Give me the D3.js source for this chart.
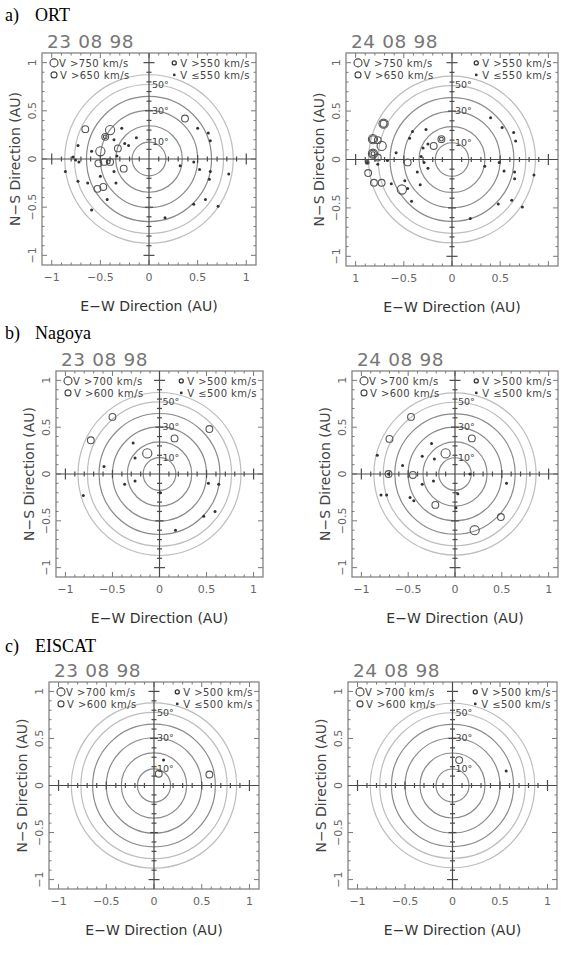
<!DOCTYPE html>
<html>
<head>
<meta charset="utf-8">
<script src="https://cdn.jsdelivr.net/npm/d3@7/dist/d3.min.js"></script>
<style>
  body { margin: 0; background: #fff; }
  svg { display: block; }
</style>
</head>
<body>
<script>
// elongation circles (deg) and the ones that get a label
var elongations = [10, 20, 30, 40, 50, 60];
var elongLabels = [10, 30, 50];
var xTickVals = [-1, -0.5, 0, 0.5, 1];
var yTickVals = [-1, -0.5, 0, 0.5, 1];
var tickText = ["\u22121", "\u22120.5", "0", "0.5", "1"];
var tickTextOrt24 = ["1", "\u22120.5", "0", "0.5", ""];

var ortLegend = ["V >750 km/s", "V >650 km/s", "V >550 km/s", "V \u2264550 km/s"];
var othLegend = ["V >700 km/s", "V >600 km/s", "V >500 km/s", "V \u2264500 km/s"];

// ORT 23 08 98
var ort23Big = [[-0.40, 0.30], [-0.50, 0.08]];
var ort23Mid = [[-0.655, 0.31], [-0.45, 0.23], [-0.32, 0.11], [-0.52, -0.045], [-0.46, -0.03],
  [-0.40, -0.03], [-0.26, -0.10], [-0.53, -0.31], [-0.47, -0.29], [0.37, 0.42]];
var ort23Small = [[-0.45, 0.23], [-0.42, -0.03]];
var ort23Dot = [[-0.73, 0.14], [-0.78, 0.02], [-0.755, -0.01], [-0.72, -0.03], [-0.86, -0.13],
  [-0.73, -0.23], [-0.63, -0.25], [-0.50, -0.18], [-0.59, 0.08], [-0.36, 0.20], [-0.28, 0.32],
  [-0.25, 0.16], [-0.21, 0.14], [-0.13, 0.22], [-0.33, 0.03], [-0.36, -0.13], [-0.34, -0.25],
  [-0.43, -0.42], [-0.59, -0.53], [0.32, -0.07], [0.46, -0.03], [0.50, 0.32], [0.61, 0.27],
  [0.63, 0.19], [0.63, -0.13], [0.62, -0.21], [0.52, -0.11], [0.82, -0.155], [0.71, -0.49],
  [0.58, -0.42], [0.46, -0.47], [0.165, -0.61]];

// ORT 24 08 98
var ort24Big = [[-0.71, 0.37], [-0.82, 0.21], [-0.73, 0.14], [-0.82, 0.06], [-0.52, -0.31]];
var ort24Mid = [[-0.71, 0.37], [-0.77, 0.20], [-0.82, 0.21], [-0.77, 0.02], [-0.82, 0.06],
  [-0.87, -0.14], [-0.81, -0.24], [-0.73, -0.24], [-0.46, -0.03], [-0.19, 0.14], [-0.11, 0.21]];
var ort24Small = [[-0.88, -0.03], [-0.11, 0.21], [-0.82, 0.06]];
var ort24Dot = [[-0.41, 0.29], [-0.44, 0.22], [-0.27, 0.31], [-0.58, 0.07], [-0.67, -0.01],
  [-0.77, -0.05], [-0.30, 0.12], [-0.25, 0.16], [-0.32, 0.03], [-0.29, -0.03], [-0.25, -0.09],
  [-0.36, -0.13], [-0.33, -0.26], [-0.49, -0.22], [-0.46, -0.30], [-0.42, -0.43], [-0.63, -0.25],
  [0.40, 0.43], [0.52, 0.33], [0.64, 0.28], [0.66, 0.19], [0.34, -0.07], [0.49, -0.03],
  [0.54, -0.12], [0.65, -0.13], [0.65, -0.20], [0.85, -0.16], [0.73, -0.49], [0.62, -0.42],
  [0.48, -0.46], [0.19, -0.61], [-0.88, -0.03]];

// Nagoya 23 08 98
var nag23Big = [[-0.13, 0.22]];
var nag23Mid = [[-0.73, 0.36], [-0.50, 0.61], [0.16, 0.38], [0.53, 0.48]];
var nag23Small = [];
var nag23Dot = [[-0.28, 0.33], [-0.26, 0.17], [-0.59, 0.08], [-0.37, -0.11], [-0.26, -0.075],
  [-0.81, -0.23], [0.01, -0.20], [0.52, -0.10], [0.63, -0.11], [0.47, -0.45], [0.59, -0.40],
  [0.17, -0.60]];

// Nagoya 24 08 98
var nag24Big = [[-0.10, 0.22], [0.21, -0.60]];
var nag24Mid = [[-0.47, 0.61], [-0.70, 0.375], [0.18, 0.38], [-0.71, 0.0], [-0.45, -0.01],
  [-0.21, -0.33], [0.49, -0.46]];
var nag24Small = [];
var nag24Dot = [[-0.83, 0.20], [-0.56, 0.09], [-0.35, 0.19], [-0.22, 0.16], [-0.25, 0.325],
  [-0.35, -0.11], [-0.23, -0.075], [-0.79, -0.225], [-0.73, -0.225], [-0.48, -0.25],
  [-0.44, -0.285], [0.03, -0.21], [0.01, -0.36], [0.16, 0.0], [0.55, -0.10], [-0.71, 0.0]];

// EISCAT
var eis23Big = [];
var eis23Mid = [[0.05, 0.125], [0.58, 0.117]];
var eis23Small = [];
var eis23Dot = [[0.10, 0.27]];
var eis24Big = [];
var eis24Mid = [[0.07, 0.27]];
var eis24Small = [];
var eis24Dot = [[0.565, 0.155]];

var W = 567, H = 955;
var svg = d3.select("body").append("svg").attr("width", W).attr("height", H);

// station headings
var stations = [
  {tag: "a)", name: "ORT", y: 21},
  {tag: "b)", name: "Nagoya", y: 339},
  {tag: "c)", name: "EISCAT", y: 652}
];
stations.forEach(function (s) {
  svg.append("text").attr("x", 5).attr("y", s.y)
    .style("font-family", "'Liberation Serif', serif").style("font-size", "18px")
    .text(s.tag);
  svg.append("text").attr("x", 35).attr("y", s.y)
    .style("font-family", "'Liberation Serif', serif").style("font-size", "18px")
    .text(s.name);
});

var panels = [
  {date: "23 08 98", l: 42, t: 53, r: 256, b: 265, big: ort23Big, mid: ort23Mid, small: ort23Small, dot: ort23Dot, legend: ortLegend, ticks: tickText},
  {date: "24 08 98", l: 346, t: 53, r: 558, b: 266, big: ort24Big, mid: ort24Mid, small: ort24Small, dot: ort24Dot, legend: ortLegend, ticks: tickTextOrt24},
  {date: "23 08 98", l: 56, t: 371, r: 263, b: 577, big: nag23Big, mid: nag23Mid, small: nag23Small, dot: nag23Dot, legend: othLegend, ticks: tickText},
  {date: "24 08 98", l: 352, t: 371, r: 558, b: 577, big: nag24Big, mid: nag24Mid, small: nag24Small, dot: nag24Dot, legend: othLegend, ticks: tickText},
  {date: "23 08 98", l: 49, t: 682, r: 259, b: 889, big: eis23Big, mid: eis23Mid, small: eis23Small, dot: eis23Dot, legend: othLegend, ticks: tickText},
  {date: "24 08 98", l: 348, t: 682, r: 557, b: 889, big: eis24Big, mid: eis24Mid, small: eis24Small, dot: eis24Dot, legend: othLegend, ticks: tickText}
];

var sans = "'DejaVu Sans', sans-serif";
var minor = d3.range(-11, 12).map(function (i) { return i / 10; });

panels.forEach(drawPanel);

function drawPanel(p) {
  var x = d3.scaleLinear().domain([-1.1, 1.1]).range([p.l, p.r]);
  var y = d3.scaleLinear().domain([-1.1, 1.1]).range([p.b, p.t]);
  var g = svg.append("g");
  var isMajor = function (v) { return Math.abs(v * 2 - Math.round(v * 2)) < 1e-6; };

  // elongation circles
  g.append("g").selectAll("circle")
    .data(elongations)
    .enter().append("circle")
    .attr("cx", x(0)).attr("cy", y(0))
    .attr("r", function (d) { return x(Math.sin(d * Math.PI / 180)) - x(0); })
    .attr("fill", "none")
    .attr("stroke", function (d) { return d >= 50 ? "#bdbdbd" : "#8a8a8a"; })
    .attr("stroke-width", 1.2);

  // frame
  g.append("rect")
    .attr("x", p.l).attr("y", p.t)
    .attr("width", p.r - p.l).attr("height", p.b - p.t)
    .attr("fill", "none").attr("stroke", "#7a7a7a").attr("stroke-width", 1.2);

  // inward frame ticks
  var inside = minor.filter(function (v) { return v > -1.1 && v < 1.1; });
  var ft = g.append("g").attr("stroke", "#7a7a7a").attr("stroke-width", 1);
  inside.forEach(function (v) {
    var len = isMajor(v) ? 5 : 2.5;
    ft.append("line").attr("x1", x(v)).attr("x2", x(v)).attr("y1", p.b).attr("y2", p.b - len);
    ft.append("line").attr("x1", x(v)).attr("x2", x(v)).attr("y1", p.t).attr("y2", p.t + len);
    ft.append("line").attr("y1", y(v)).attr("y2", y(v)).attr("x1", p.l).attr("x2", p.l + len);
    ft.append("line").attr("y1", y(v)).attr("y2", y(v)).attr("x1", p.r).attr("x2", p.r - len);
  });

  // cross hair through the origin
  var ch = g.append("g").attr("stroke", "#4a4a4a").attr("stroke-width", 1.2);
  ch.append("line").attr("x1", p.l).attr("x2", p.r).attr("y1", y(0)).attr("y2", y(0));
  ch.append("line").attr("x1", x(0)).attr("x2", x(0)).attr("y1", p.t).attr("y2", p.b);
  inside.forEach(function (v) {
    if (Math.abs(v) < 1e-6) return;
    var len = Math.abs(Math.abs(v) - 1) < 1e-6 ? 5.5 : (isMajor(v) ? 4 : 2.5);
    ch.append("line").attr("x1", x(v)).attr("x2", x(v)).attr("y1", y(0) - len).attr("y2", y(0) + len);
    ch.append("line").attr("y1", y(v)).attr("y2", y(v)).attr("x1", x(0) - len).attr("x2", x(0) + len);
  });

  // elongation labels
  g.append("g").selectAll("text")
    .data(elongLabels)
    .enter().append("text")
    .attr("x", x(0) + 3)
    .attr("y", function (d) { return y(Math.sin(d * Math.PI / 180)) + 3; })
    .style("font-family", sans).style("font-size", "9.5px").style("fill", "#444")
    .text(function (d) { return d + "\u00b0"; });

  // data symbols
  var sym = g.append("g");
  sym.selectAll(".big").data(p.big).enter().append("circle")
    .attr("cx", function (d) { return x(d[0]); }).attr("cy", function (d) { return y(d[1]); })
    .attr("r", 4.6).attr("fill", "none").attr("stroke", "#555").attr("stroke-width", 1.1);
  sym.selectAll(".mid").data(p.mid).enter().append("circle")
    .attr("cx", function (d) { return x(d[0]); }).attr("cy", function (d) { return y(d[1]); })
    .attr("r", 3.4).attr("fill", "none").attr("stroke", "#555").attr("stroke-width", 1.1);
  sym.selectAll(".small").data(p.small).enter().append("circle")
    .attr("cx", function (d) { return x(d[0]); }).attr("cy", function (d) { return y(d[1]); })
    .attr("r", 1.9).attr("fill", "none").attr("stroke", "#444").attr("stroke-width", 1.1);
  sym.selectAll(".dot").data(p.dot).enter().append("circle")
    .attr("cx", function (d) { return x(d[0]); }).attr("cy", function (d) { return y(d[1]); })
    .attr("r", 1.5).attr("fill", "#333");

  // legend
  var lg = g.append("g").style("font-family", sans).style("font-size", "10px")
    .style("letter-spacing", "0.45px").style("fill", "#444");
  var row1 = p.t + 13.5, row2 = p.t + 25.5;
  lg.append("circle").attr("cx", p.l + 12).attr("cy", row1 - 3.6).attr("r", 4)
    .attr("fill", "#fff").attr("stroke", "#444").attr("stroke-width", 1.1);
  lg.append("text").attr("x", p.l + 17).attr("y", row1).text(p.legend[0]);
  lg.append("circle").attr("cx", p.l + 12).attr("cy", row2 - 3.6).attr("r", 3)
    .attr("fill", "#fff").attr("stroke", "#444").attr("stroke-width", 1.1);
  lg.append("text").attr("x", p.l + 18).attr("y", row2).text(p.legend[1]);
  var t3 = lg.append("text").attr("x", p.r - 6).attr("y", row1).attr("text-anchor", "end").text(p.legend[2]);
  var t4 = lg.append("text").attr("x", p.r - 6).attr("y", row2).attr("text-anchor", "end").text(p.legend[3]);
  var w3 = t3.node().getComputedTextLength();
  var w4 = t4.node().getComputedTextLength();
  lg.append("circle").attr("cx", p.r - 6 - w3 - 6).attr("cy", row1 - 3.6).attr("r", 2)
    .attr("fill", "#fff").attr("stroke", "#333").attr("stroke-width", 1.3);
  lg.append("circle").attr("cx", p.r - 6 - w4 - 6).attr("cy", row2 - 3.6).attr("r", 1.4)
    .attr("fill", "#333");

  // date title
  g.append("text").attr("x", p.l + 5).attr("y", p.t - 5)
    .style("font-family", sans).style("font-size", "18.5px").style("fill", "#777")
    .style("letter-spacing", "0.6px")
    .text(p.date);

  // tick labels
  var tl = g.append("g").style("font-family", sans).style("font-size", "11px").style("fill", "#666");
  tl.selectAll(".xt").data(xTickVals).enter().append("text")
    .attr("x", function (d) { return x(d); }).attr("y", p.b + 16)
    .attr("text-anchor", "middle")
    .text(function (d, i) { return p.ticks[i]; });
  tl.selectAll(".yt").data(yTickVals).enter().append("text")
    .attr("transform", function (d) { return "translate(" + (p.l - 6) + "," + y(d) + ") rotate(-90)"; })
    .attr("text-anchor", "middle")
    .text(function (d, i) { return tickText[i]; });

  // axis titles
  g.append("text").attr("x", x(0)).attr("y", p.b + 46)
    .attr("text-anchor", "middle")
    .style("font-family", sans).style("font-size", "14px").style("fill", "#333")
    .text("E\u2212W Direction (AU)");
  g.append("text")
    .attr("transform", "translate(" + (p.l - 22) + "," + y(0) + ") rotate(-90)")
    .attr("text-anchor", "middle")
    .style("font-family", sans).style("font-size", "14px").style("fill", "#444")
    .text("N\u2212S Direction (AU)");
}
</script>
</body>
</html>
